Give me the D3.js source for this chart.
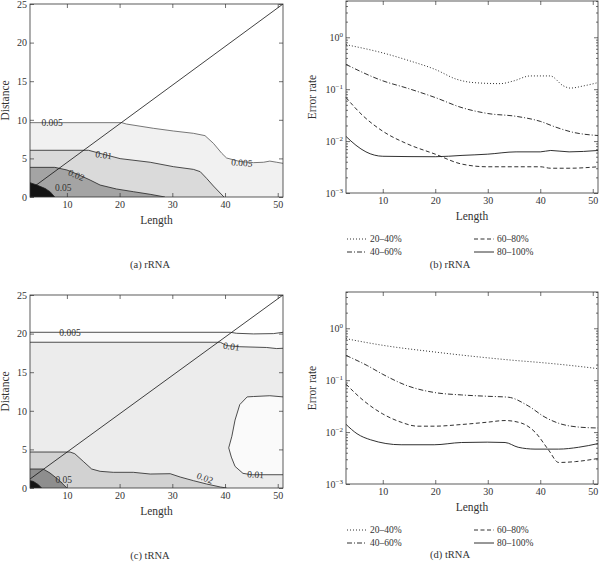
<!DOCTYPE html>
<html>
<head>
<meta charset="utf-8">
<script src="https://cdn.jsdelivr.net/npm/d3@7"></script>
<style>
    body { margin: 0; background: #fff; }
    svg text { font-family: "Liberation Serif", serif; fill: #333; }
</style>
</head>
<body>
<svg id="chart" width="600" height="563"></svg>
<script>
// Axis ranges and tick labels
const lengthDomain = [3, 51];
const lengthTicks = [10, 20, 30, 40, 50];
const distanceDomain = [0, 25];
const distanceTicks = [0, 5, 10, 15, 20, 25];
const errorDomain = [0.001, 5];
const errorTicks = [1, 0.1, 0.01, 0.001];
const seriesNames = ['20–40%', '40–60%', '60–80%', '80–100%'];

// (a) rRNA contour boundaries [length, distance]
const rrna005 = [[3, 9.63], [20.4, 9.63], [21.3, 9.45], [26.4, 8.9], [30.2, 8.55], [34, 8.25], [36.2, 7.95], [37.8, 6.95], [39.4, 5.65], [40.3, 5.05], [42.8, 4.6], [45.4, 4.45], [47.3, 4.5], [48.5, 4.65], [49.8, 4.5], [51, 4.36]];
const rrna01 = [[3, 6.05], [14.1, 6.05], [16.3, 5.65], [20.1, 4.97], [25.8, 4.5], [30.2, 3.93], [34, 3.58], [35.3, 3.28], [36.5, 2.42], [37.8, 1.42], [39.8, 0]];
const rrna02 = [[3, 3.84], [7.7, 3.84], [10, 3.5], [11.9, 2.98], [14.4, 2.2], [16.3, 1.55], [19.4, 1.04], [22.6, 0.69], [25.8, 0.35], [28.6, 0]];
const rrna05 = [[3, 1.86], [4.3, 1.55], [5.8, 1.12], [6.8, 0.69], [7.7, 0]];
const rrnaDiagonal = [[3.8, 1.35], [51, 25]];
const rrnaLabels = [
    {text: '0.005', at: [7.2, 9.63], angle: 0},
    {text: '0.01', at: [17, 5.45], angle: 8},
    {text: '0.02', at: [11.8, 2.85], angle: 22},
    {text: '0.05', at: [9.3, 1.15], angle: 0},
    {text: '0.005', at: [43.2, 4.45], angle: 4}
];

// (c) tRNA contour boundaries [length, distance]
const trna005 = [[3, 20.17], [41, 20.17], [42.2, 20.04], [45.4, 19.96], [49.2, 20.0], [51, 20.17]];
const trna01 = [[3, 18.88], [39.1, 18.88], [40.3, 18.45], [42.8, 18.3], [47.9, 18.2], [49.8, 18.06], [51, 18.1]];
const trna01Island = [[51, 11.8], [48.5, 11.95], [45.4, 11.85], [44.2, 11.8], [42.8, 10.8], [41.9, 8.8], [41.3, 6.7], [40.7, 5.2], [41.2, 4.0], [41.9, 2.8], [43.4, 1.9], [45, 1.72], [51, 1.72]];
const trna02 = [[3, 4.66], [10.6, 4.66], [11.5, 4.44], [13.1, 3.45], [14.7, 2.46], [16.3, 2.16], [18.8, 2.03], [22.6, 2.03], [25.8, 1.81], [29.6, 1.85], [31.5, 1.42], [34, 0.95], [36.5, 0.52], [39.1, 0.13], [40.3, 0]];
const trna05 = [[3, 2.46], [5.5, 2.46], [6.8, 1.94], [8.4, 1.08], [10, 0]];
const trna10 = [[3, 0.95], [3.6, 0.86], [4.6, 0.43], [5.2, 0]];
const trnaDiagonal = [[3, 1.16], [51, 25]];
const trnaLabels = [
    {text: '0.005', at: [10.6, 20.17], angle: 0},
    {text: '0.01', at: [41.2, 18.35], angle: 8},
    {text: '0.02', at: [36.2, 1.3], angle: 20},
    {text: '0.01', at: [45.8, 1.75], angle: 4},
    {text: '0.05', at: [9.4, 1.1], angle: 0}
];

// (b) rRNA error rates [length, rate]
const rrnaErr2040 = [[3, 0.72], [10, 0.5], [15.2, 0.35], [20, 0.24], [24.1, 0.155], [27.3, 0.134], [32.4, 0.128], [34.9, 0.144], [38.1, 0.18], [41.9, 0.18], [44.4, 0.116], [45.7, 0.105], [48.3, 0.116], [51, 0.134]];
const rrnaErr4060 = [[3, 0.30], [10, 0.145], [14.6, 0.105], [20, 0.069], [25.1, 0.044], [30, 0.034], [35.4, 0.030], [40, 0.024], [43, 0.0185], [46.2, 0.0148], [51, 0.0128]];
const rrnaErr6080 = [[3, 0.069], [6.2, 0.031], [10, 0.0155], [14.6, 0.0089], [20, 0.0056], [25.1, 0.0036], [30, 0.0032], [40, 0.0032], [42, 0.0030], [45.5, 0.0030], [51, 0.0032]];
const rrnaErr80100 = [[3, 0.0123], [4.9, 0.0083], [6.8, 0.0062], [10, 0.0051], [20, 0.0050], [25.1, 0.0053], [30, 0.0056], [35.4, 0.0062], [40, 0.0062], [42, 0.0066], [45.5, 0.0062], [51, 0.0066]];

// (d) tRNA error rates [length, rate]
const trnaErr2040 = [[3, 0.63], [10, 0.47], [19.8, 0.35], [29.9, 0.27], [35.2, 0.24], [39.8, 0.22], [45.4, 0.194], [51, 0.167]];
const trnaErr4060 = [[3, 0.30], [7.1, 0.19], [10, 0.13], [14.7, 0.078], [19.8, 0.058], [25, 0.052], [29.9, 0.049], [33.9, 0.047], [37.7, 0.032], [40.9, 0.0194], [43.5, 0.0148], [47.3, 0.0125], [51, 0.012]];
const trnaErr6080 = [[3, 0.084], [6.4, 0.040], [10, 0.0224], [13.5, 0.0155], [16.6, 0.013], [19.8, 0.013], [25, 0.014], [29.9, 0.0155], [33.3, 0.0167], [36.5, 0.0148], [39, 0.010], [41.6, 0.0045], [43.5, 0.0026], [46.7, 0.0027], [51, 0.0031]];
const trnaErr80100 = [[3, 0.0141], [5.1, 0.0093], [7.7, 0.0071], [13.5, 0.0057], [19.8, 0.0057], [25, 0.0063], [29.9, 0.0064], [33.3, 0.0063], [35.8, 0.0051], [39, 0.0047], [43.5, 0.0047], [47.3, 0.0051], [51, 0.0060]];

// line styles for the four series
const dashes = ['1,2', '5,2,1,2', '4,2.5', null];

const svg = d3.select('#chart');

// inward ticks on all four sides
const frameAxes = (g, x, y, box, yTicks, yFormat, minor) => {
    g.append('g')
        .attr('transform', `translate(0,${box.b})`)
        .call(d3.axisBottom(x).tickValues(lengthTicks).tickSizeInner(-4).tickSizeOuter(0).tickPadding(4));
    g.append('g')
        .attr('transform', `translate(0,${box.t})`)
        .call(d3.axisTop(x).tickValues(lengthTicks).tickSizeInner(-4).tickSizeOuter(0).tickFormat(''));
    g.append('g')
        .attr('class', 'yleft')
        .attr('transform', `translate(${box.l},0)`)
        .call(d3.axisLeft(y).tickValues(yTicks).tickSizeInner(-4).tickSizeOuter(0).tickPadding(3).tickFormat(yFormat));
    g.append('g')
        .attr('transform', `translate(${box.r},0)`)
        .call(d3.axisRight(y).tickValues(yTicks).tickSizeInner(-4).tickSizeOuter(0).tickFormat(''));
    if (minor) {
        g.append('g')
            .attr('transform', `translate(${box.l},0)`)
            .call(d3.axisLeft(y).tickValues(minor).tickSizeInner(-2).tickSizeOuter(0).tickFormat(''));
        g.append('g')
            .attr('transform', `translate(${box.r},0)`)
            .call(d3.axisRight(y).tickValues(minor).tickSizeInner(-2).tickSizeOuter(0).tickFormat(''));
    }
    g.selectAll('.domain').remove();
    g.selectAll('.tick line').attr('stroke', '#333').attr('stroke-width', 0.7);
    g.selectAll('.tick text').attr('font-size', 10).attr('fill', '#444');
    g.append('rect')
        .attr('x', box.l).attr('y', box.t)
        .attr('width', box.r - box.l).attr('height', box.b - box.t)
        .attr('fill', 'none').attr('stroke', '#333').attr('stroke-width', 0.8);
};

const titles = (g, box, yTitle, caption, captionX, captionY) => {
    g.append('text')
        .attr('x', (box.l + box.r) / 2).attr('y', box.b + 27)
        .attr('text-anchor', 'middle').attr('font-size', 11.5)
        .text('Length');
    g.append('text')
        .attr('transform', `translate(${yTitle.x},${(box.t + box.b) / 2}) rotate(-90)`)
        .attr('text-anchor', 'middle').attr('font-size', 11.5)
        .text(yTitle.text);
    g.append('text')
        .attr('x', captionX).attr('y', captionY)
        .attr('text-anchor', 'middle').attr('font-size', 10.5)
        .text(caption);
};

// Contour panel
const renderContour = (id, box, layers, island, diagonal, labels, caption, captionY) => {
    const g = svg.append('g');
    const x = d3.scaleLinear().domain(lengthDomain).range([box.l, box.r]);
    const y = d3.scaleLinear().domain(distanceDomain).range([box.b, box.t]);

    svg.append('clipPath').attr('id', id)
        .append('rect')
        .attr('x', box.l).attr('y', box.t)
        .attr('width', box.r - box.l).attr('height', box.b - box.t);
    const plot = g.append('g').attr('clip-path', `url(#${id})`);

    const area = d3.area()
        .x(d => x(d[0]))
        .y0(y(0))
        .y1(d => y(d[1]));
    const line = d3.line()
        .x(d => x(d[0]))
        .y(d => y(d[1]));

    // filled bands, lowest level first
    layers.forEach((layer, i) => {
        plot.append('path')
            .datum(layer.pts)
            .attr('d', area)
            .attr('fill', layer.fill);
        if (island && island.after === i) {
            plot.append('path')
                .datum(island.pts)
                .attr('d', d => line(d) + 'Z')
                .attr('fill', island.fill);
        }
    });

    // contour lines
    layers.forEach(layer => {
        plot.append('path')
            .datum(layer.pts)
            .attr('d', line)
            .attr('fill', 'none')
            .attr('stroke', layer.stroke || '#222')
            .attr('stroke-width', 0.8);
    });
    if (island) {
        plot.append('path')
            .datum(island.pts)
            .attr('d', line)
            .attr('fill', 'none')
            .attr('stroke', '#222')
            .attr('stroke-width', 0.8);
    }

    plot.append('path')
        .datum(diagonal)
        .attr('d', line)
        .attr('fill', 'none')
        .attr('stroke', '#111')
        .attr('stroke-width', 0.8);

    plot.selectAll('text.clabel')
        .data(labels)
        .join('text')
        .attr('class', 'clabel')
        .attr('transform', d => `translate(${x(d.at[0])},${y(d.at[1])}) rotate(${d.angle})`)
        .attr('text-anchor', 'middle')
        .attr('dy', '0.35em')
        .attr('font-size', 9.5)
        .text(d => d.text);

    frameAxes(g, x, y, box, distanceTicks, d3.format('d'), null);
    titles(g, box, {x: 9, text: 'Distance'}, caption, 150, captionY);
};

// Error rate panel
const renderError = (box, series, caption, captionY) => {
    const g = svg.append('g');
    const x = d3.scaleLinear().domain(lengthDomain).range([box.l, box.r]);
    const y = d3.scaleLog().domain(errorDomain).range([box.b, box.t]);

    const line = d3.line()
        .x(d => x(d[0]))
        .y(d => y(d[1]))
        .curve(d3.curveMonotoneX);

    g.selectAll('path.series')
        .data(series)
        .join('path')
        .attr('class', 'series')
        .attr('d', line)
        .attr('fill', 'none')
        .attr('stroke', '#1a1a1a')
        .attr('stroke-width', 0.9)
        .attr('stroke-dasharray', (d, i) => dashes[i]);

    const minor = [];
    [0.001, 0.01, 0.1, 1].forEach(base => {
        for (let k = 2; k <= 9; k++) {
            if (base * k <= errorDomain[1]) minor.push(base * k);
        }
    });

    frameAxes(g, x, y, box, errorTicks, () => '', minor);
    g.selectAll('.yleft .tick text').each(function(d) {
        const t = d3.select(this);
        t.append('tspan').text('10');
        t.append('tspan')
            .attr('dy', '-0.5em')
            .attr('font-size', 7)
            .text(String(Math.round(Math.log10(d))).replace('-', '−'));
    });

    titles(g, box, {x: 316, text: 'Error rate'}, caption, 450, captionY);

    // legend
    const legend = g.append('g')
        .attr('transform', `translate(${box.l},${box.b + 46})`);
    const items = legend.selectAll('g')
        .data(seriesNames)
        .join('g')
        .attr('transform', (d, i) => `translate(${i < 2 ? 1 : 128},${(i % 2) * 13})`);
    items.append('line')
        .attr('x1', 0).attr('x2', 20)
        .attr('stroke', '#1a1a1a')
        .attr('stroke-width', 0.9)
        .attr('stroke-dasharray', (d, i) => dashes[i]);
    items.append('text')
        .attr('x', 23)
        .attr('dy', '0.35em')
        .attr('font-size', 9.5)
        .text(d => d);
};

renderContour('clipA', {l: 30, r: 283, t: 4, b: 197},
    [
        {pts: rrna005, fill: '#f1f1f1', stroke: '#555'},
        {pts: rrna01, fill: '#dadada'},
        {pts: rrna02, fill: '#a4a4a4'},
        {pts: rrna05, fill: '#141414'}
    ],
    null, rrnaDiagonal, rrnaLabels, '(a) rRNA', 268);

renderError({l: 346, r: 598, t: 1, b: 193},
    [rrnaErr2040, rrnaErr4060, rrnaErr6080, rrnaErr80100], '(b) rRNA', 268);

renderContour('clipC', {l: 30, r: 283, t: 295, b: 488},
    [
        {pts: trna005, fill: '#fafafa'},
        {pts: trna01, fill: '#ececec'},
        {pts: trna02, fill: '#d2d2d2'},
        {pts: trna05, fill: '#8e8e8e'},
        {pts: trna10, fill: '#141414'}
    ],
    {pts: trna01Island, fill: '#fafafa', after: 1},
    trnaDiagonal, trnaLabels, '(c) tRNA', 559);

renderError({l: 346, r: 598, t: 292, b: 484},
    [trnaErr2040, trnaErr4060, trnaErr6080, trnaErr80100], '(d) tRNA', 558);
</script>
</body>
</html>
